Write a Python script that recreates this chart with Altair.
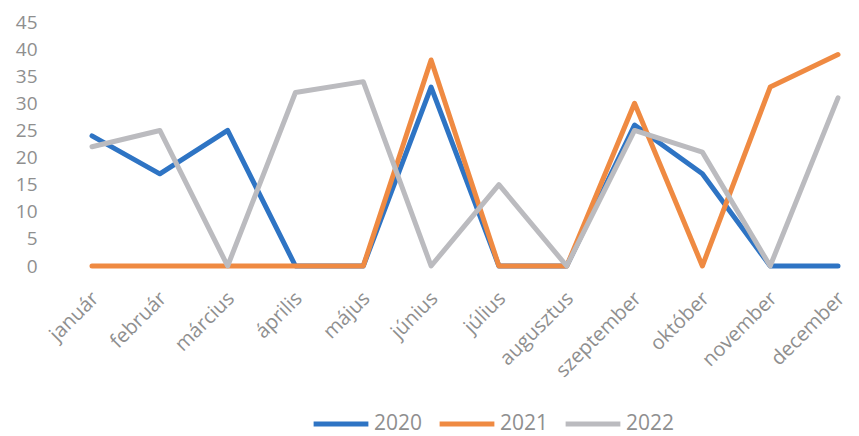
import altair as alt
import pandas as pd

months = ["január", "február", "március", "április", "május", "június",
          "július", "augusztus", "szeptember", "október", "november", "december"]
years = ["2020", "2021", "2022"]
v2020 = [24, 17, 25, 0, 0, 33, 0, 0, 26, 17, 0, 0]
v2021 = [0, 0, 0, 0, 0, 38, 0, 0, 30, 0, 33, 39]
v2022 = [22, 25, 0, 32, 34, 0, 15, 0, 25, 21, 0, 31]
colors = ["#2e74c4", "#ef8a42", "#bbbbbf"]

rows = []
for y, vals in zip(years, [v2020, v2021, v2022]):
    for m, v in zip(months, vals):
        rows.append({"month": m, "year": y, "value": v})
df = pd.DataFrame(rows)

FONT = "Open Sans"
LABEL = "#8f8f8f"

chart = alt.Chart(df).mark_line(strokeWidth=5, strokeJoin="round", strokeCap="round").encode(
    x=alt.X("month:N", sort=months, title=None,
            scale=alt.Scale(type="point", padding=0),
            axis=alt.Axis(labelAngle=-45, labelAlign="right", labelBaseline="top",
                          ticks=False, domain=False, grid=False, labelPadding=22,
                          labelOffset=-4,
                          labelFont=FONT, labelFontSize=20, labelColor=LABEL)),
    y=alt.Y("value:Q", title=None,
            scale=alt.Scale(domain=[0, 45], nice=False),
            axis=alt.Axis(values=list(range(0, 50, 5)), ticks=False, domain=False, grid=False,
                          labelPadding=55, labelFont=FONT, labelFontSize=19, labelColor=LABEL)),
    color=alt.Color("year:N", scale=alt.Scale(domain=years, range=colors), title=None,
                    legend=alt.Legend(orient="none", direction="horizontal",
                                      legendX=219, legendY=372,
                                      symbolType="stroke", symbolSize=3000,
                                      symbolStrokeWidth=5, labelFont=FONT,
                                      labelFontSize=21, labelColor=LABEL,
                                      labelOffset=3, columnPadding=6)),
    order=alt.Order("year:N"),
).properties(
    width=746, height=244,
    autosize=alt.AutoSizeParams(type="none"),
    padding={"left": 84, "top": 14, "right": 13, "bottom": 178},
).configure_view(stroke=None)

chart.save("out.html", embed_options={"renderer": "svg", "actions": False})
